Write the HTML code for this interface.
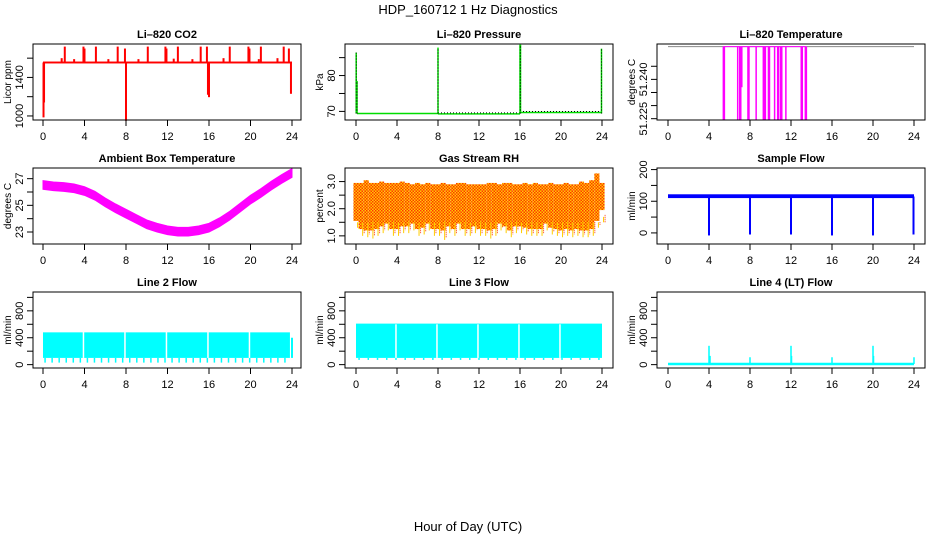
<!DOCTYPE html>
<html><head><meta charset="utf-8">
<style>
html,body{margin:0;padding:0;background:#fff;}
svg{display:block;font-family:"Liberation Sans",sans-serif;}
</style></head>
<body>
<svg id="fig" width="936" height="540" viewBox="0 0 936 540">
<text x="468" y="14" text-anchor="middle" font-size="13">HDP_160712  1 Hz Diagnostics</text>
<text x="468" y="531" text-anchor="middle" font-size="13">Hour of Day (UTC)</text>
</svg>
<script>
// ---- data arrays ----
const xTicks = [0,4,8,12,16,20,24];
// CO2
const co2Base = [1545,1565];
const co2SpikeHours = [2.1,3.9,4.0,5.1,7.2,7.9,10.1,11.8,11.9,13.0,15.2,15.8,18.0,19.8,19.9,21.0,23.2,23.7,0.05,0.1,8.0,15.9,16.0,23.9,1.8,3.0,6.3,9.2,12.6,14.4,17.4,20.8,22.6];
const co2SpikeVals  = [1720,1720,1700,1720,1720,1700,1720,1720,1700,1720,1720,1720,1720,1720,1700,1720,1720,1700,985,1140,950,1220,1195,1230,1600,1590,1590,1590,1595,1590,1600,1590,1600];
// Pressure
const presSegStart = [0.1,8,16];
const presSegEnd   = [8,16,24];
const presSegVal   = [69.4,69.3,69.7];
const presSpikeHours = [0.02,0.1,8.0,16.0,16.05,23.95];
const presSpikeVals  = [86.4,78.5,87.8,88.6,88.6,87.5];
// Li-820 temperature
const ltBase = 51.2525;
const ltDropHours = [5.4,5.5,6.8,7.0,7.1,7.8,7.9,8.6,9.3,9.4,9.5,9.8,9.9,10.4,10.7,10.8,11.0,11.1,11.5,13.0,13.1,13.4,13.5,7.2];
const ltDropVals  = [51.2245,51.2245,51.2245,51.2245,51.2245,51.2245,51.2245,51.2245,51.2245,51.2245,51.2245,51.2245,51.2245,51.2245,51.2245,51.2245,51.2245,51.2245,51.2245,51.2245,51.2245,51.2245,51.2245,51.237];
// Ambient temperature (hourly centre)
const ambHours = [0,1,2,3,4,5,6,7,8,9,10,11,12,13,14,15,16,17,18,19,20,21,22,23,24];
const ambVals  = [26.5,26.4,26.35,26.25,26.05,25.7,25.2,24.75,24.35,23.95,23.55,23.3,23.1,23.0,23.0,23.1,23.3,23.7,24.2,24.8,25.4,25.9,26.45,26.95,27.4];
// Gas stream RH (half-hourly low envelope; top ~2.95)
const rhTop = [2.95,2.95,3.05,2.95,2.95,3.0,2.95,2.95,2.95,3.0,2.95,2.9,2.95,2.9,2.95,2.9,2.9,2.95,2.9,2.9,2.95,2.95,2.9,2.9,2.9,2.9,2.95,2.95,2.9,2.95,2.95,2.9,2.9,2.95,2.9,2.95,2.9,2.9,2.95,2.9,2.9,2.95,2.9,2.9,3.0,2.95,3.05,3.3,2.95];
const rhLow = [1.3,1.0,0.95,0.9,1.0,1.1,1.2,1.0,1.0,1.1,1.1,1.2,1.0,1.05,1.2,1.0,1.0,0.85,1.1,1.0,1.2,1.0,1.0,1.1,1.0,1.0,0.9,1.0,1.2,1.1,0.95,1.1,1.1,1.05,1.0,1.0,1.0,1.2,1.05,1.0,0.95,1.0,0.95,1.0,0.95,0.95,1.0,1.3,1.7];
// Sample flow
const sfBase = [110,122];
const sfDropHours = [4,8,12,16,20,23.95];
const sfDropVals  = [-8,-5,-5,-8,-8,-5];
// Line 2 flow
const l2Top = 480, l2Bot = 100, l2DipVal = 30;
const l2Gaps = [3.9,7.9,11.9,15.9,19.9];
const l2End = 400;
// Line 3 flow
const l3Top = 610, l3Bot = 100, l3DipVal = 70;
const l3Gaps = [3.9,7.9,11.9,15.9,19.9];
// Line 4 flow
const l4Base = 10;
const l4SpikeHours = [4,4.1,8,12,12.05,16,20,20.05,24];
const l4SpikeVals  = [280,130,110,280,130,110,280,130,110];

// ---- layout ----
const NS="http://www.w3.org/2000/svg";
const svg=document.getElementById('fig');
const colX=[[33,301],[345,613],[657,925]];
const xZero=[[43,292],[356,602],[668,914]];
const rowY=[[44,120],[168,244],[292,368]];
function el(tag,attrs,parent){const e=document.createElementNS(NS,tag);for(const k in attrs)e.setAttribute(k,attrs[k]);(parent||svg).appendChild(e);return e;}
function panel(c,r,title,ylab,ymin,ymax,yTicks,yLabels,name){
  const g=el('g',{});
  
  
  const [x0,x1]=colX[c],[y0,y1]=rowY[r];
  const sx=h=>xZero[c][0]+(xZero[c][1]-xZero[c][0])*h/24;
  const sy=v=>y1-(v-ymin)/(ymax-ymin)*(y1-y0);
  const t=el('text',{x:(x0+x1)/2,y:y0-6,'text-anchor':'middle','font-size':11,'font-weight':'bold'},g);
  t.textContent=title;
  
  
  const plot=el('g',{},g);
  
  
  el('rect',{x:x0,y:y0,width:x1-x0,height:y1-y0,fill:'none',stroke:'#000','stroke-width':1},g);
  const xa=el('g',{},g);
  
  
  xTicks.forEach(h=>{
    el('line',{x1:sx(h),x2:sx(h),y1:y1,y2:y1+6,stroke:'#000'},xa);
    const l=el('text',{x:sx(h),y:y1+20,'text-anchor':'middle','font-size':11},xa);
    l.textContent=h;
  });
  const ya=el('g',{},g);
  
  
  yTicks.forEach((v,i)=>{
    el('line',{x1:x0,x2:x0-6,y1:sy(v),y2:sy(v),stroke:'#000'},ya);
    if(yLabels[i]){const l=el('text',{x:0,y:0,'text-anchor':'middle','font-size':11,transform:`translate(${x0-10},${sy(v)}) rotate(-90)`},ya);l.textContent=yLabels[i];}
  });
  const yl=el('text',{x:0,y:0,'text-anchor':'middle','font-size':10,transform:`translate(${x0-22},${(y0+y1)/2}) rotate(-90)`},g);
  yl.textContent=ylab;
  
  
  return {sx,sy,plot};
}
function vline(p,h,a,b,col,w,dash){const e=el('line',{x1:p.sx(h),x2:p.sx(h),y1:p.sy(a),y2:p.sy(b),stroke:col,'stroke-width':w||1.5},p.plot);if(dash)e.setAttribute('stroke-dasharray',dash);return e;}

// CO2
let p=panel(0,0,'Li\u2013820 CO2','Licor ppm',958,1747,[1000,1200,1400,1600],['1000','','1400',''],'co2');
el('rect',{x:p.sx(0),y:p.sy(co2Base[1]),width:p.sx(24)-p.sx(0),height:p.sy(co2Base[0])-p.sy(co2Base[1]),fill:'#ff0000'},p.plot);
co2SpikeHours.forEach((h,i)=>{const l=vline(p,h,1555,co2SpikeVals[i],'#ff0000',2);});
// Pressure
p=panel(1,0,'Li\u2013820 Pressure','kPa',67.6,88.8,[70,75,80,85],['70','','80',''],'pressure');
presSegStart.forEach((s,i)=>{const l=el('line',{x1:p.sx(s),x2:p.sx(presSegEnd[i]),y1:p.sy(presSegVal[i]),y2:p.sy(presSegVal[i]),stroke:'#00dd00','stroke-width':1.5},p.plot);});
presSegStart.forEach((s,i)=>{if(i>0){el('line',{x1:p.sx(s),x2:p.sx(presSegEnd[i]),y1:p.sy(presSegVal[i])-1,y2:p.sy(presSegVal[i])-1,stroke:'#000','stroke-width':1,'stroke-dasharray':'1,2'},p.plot);}});
presSpikeHours.forEach((h,i)=>{vline(p,h,69.4,presSpikeVals[i],'#00dd00',1.5);vline(p,h,69.4,presSpikeVals[i],'#000',1,'1,2');});
// Li-820 temperature
p=panel(2,0,'Li\u2013820 Temperature','degrees C',51.2245,51.2535,[51.225,51.230,51.235,51.240,51.245],['51.225','','','51.240',''],'licor-temp');
el('line',{x1:p.sx(0),x2:p.sx(24),y1:p.sy(ltBase),y2:p.sy(ltBase),stroke:'#888','stroke-width':1},p.plot);
el('line',{x1:p.sx(5.4),x2:p.sx(13.5),y1:p.sy(ltBase),y2:p.sy(ltBase),stroke:'#ff00ff','stroke-width':1},p.plot);
ltDropHours.forEach((h,i)=>{const l=vline(p,h,ltBase,ltDropVals[i],'#ff00ff',1.5);});
// Ambient
p=panel(0,1,'Ambient Box Temperature','degrees C',22.1,27.8,[23,24,25,26,27],['23','','25','','27'],'ambient-temp');
{let up='',dn='';ambHours.forEach((h,i)=>{up+=(i?'L':'M')+p.sx(h)+','+p.sy(ambVals[i]+0.35);});
for(let i=ambHours.length-1;i>=0;i--){dn+='L'+p.sx(ambHours[i])+','+p.sy(ambVals[i]-0.3);}
const a=el('path',{d:up+dn+'Z',fill:'#ff00ff',stroke:'#ff00ff','stroke-width':1},p.plot);}
// RH
p=panel(1,1,'Gas Stream RH','percent',0.7,3.5,[1.0,1.5,2.0,2.5,3.0],['1.0','','2.0','','3.0'],'rh');
{const defs=el('defs',{});const pat=el('pattern',{id:'rhp',width:3,height:3,patternUnits:'userSpaceOnUse'},defs);
el('rect',{width:3,height:3,fill:'#ffcc00'},pat);el('rect',{x:0,y:0,width:1.5,height:1.5,fill:'#ff3300'},pat);el('rect',{x:1.5,y:1.5,width:1.5,height:1.5,fill:'#ff3300'},pat);
const w=(p.sx(24)-p.sx(0))/48;
rhLow.forEach((v,i)=>{const h=i*0.5;const x=p.sx(h)-w/2;
 const b=el('rect',{x:x,y:p.sy(rhTop[i]),width:w,height:p.sy(Math.max(v+0.25,1.2))-p.sy(rhTop[i]),fill:'url(#rhp)'},p.plot);
 
 vline(p,h+0.15,1.5,v,'#ffcc00',1);vline(p,h+0.3,1.5,v+0.1,'#ff3300',1,'1,1');});}
// Sample flow
p=panel(2,1,'Sample Flow','ml/min',-35,205,[0,50,100,150,200],['0','','100','','200'],'sample-flow');
el('rect',{x:p.sx(0),y:p.sy(sfBase[1]),width:p.sx(24)-p.sx(0),height:p.sy(sfBase[0])-p.sy(sfBase[1]),fill:'#0000ff'},p.plot);
sfDropHours.forEach((h,i)=>{const l=vline(p,h,115,sfDropVals[i],'#0000ff',2);});
// Line 2
p=panel(0,2,'Line 2 Flow','ml/min',-50,1080,[0,200,400,600,800,1000],['0','','400','','800',''],'line2-flow');
{const b=el('rect',{x:p.sx(0),y:p.sy(l2Top),width:p.sx(23.8)-p.sx(0),height:p.sy(l2Bot)-p.sy(l2Top),fill:'#00ffff'},p.plot);
for(let h=0.2;h<23.8;h+=0.68){vline(p,h,l2Bot,l2DipVal,'#00ffff',1.5);}
l2Gaps.forEach(h=>vline(p,h,l2Top+10,l2Bot,'#ffffff',1.5));
vline(p,24,l2Bot,l2End,'#00ffff',2);}
// Line 3
p=panel(1,2,'Line 3 Flow','ml/min',-50,1080,[0,200,400,600,800,1000],['0','','400','','800',''],'line3-flow');
{const b=el('rect',{x:p.sx(0),y:p.sy(l3Top),width:p.sx(24)-p.sx(0),height:p.sy(l3Bot)-p.sy(l3Top),fill:'#00ffff'},p.plot);
for(let h=0.3;h<24;h+=0.9){vline(p,h,l3Bot,l3DipVal,'#00ffff',1.5);}
l3Gaps.forEach(h=>vline(p,h,l3Top-10,l3Bot,'#ffffff',1.5));}
// Line 4
p=panel(2,2,'Line 4 (LT) Flow','ml/min',-50,1080,[0,200,400,600,800,1000],['0','','400','','800',''],'line4-flow');
el('line',{x1:p.sx(0),x2:p.sx(24),y1:p.sy(l4Base),y2:p.sy(l4Base),stroke:'#00ffff','stroke-width':2.5},p.plot);
l4SpikeHours.forEach((h,i)=>{const l=vline(p,h,l4Base,l4SpikeVals[i],'#00ffff',1.5);});
</script>
</body></html>
